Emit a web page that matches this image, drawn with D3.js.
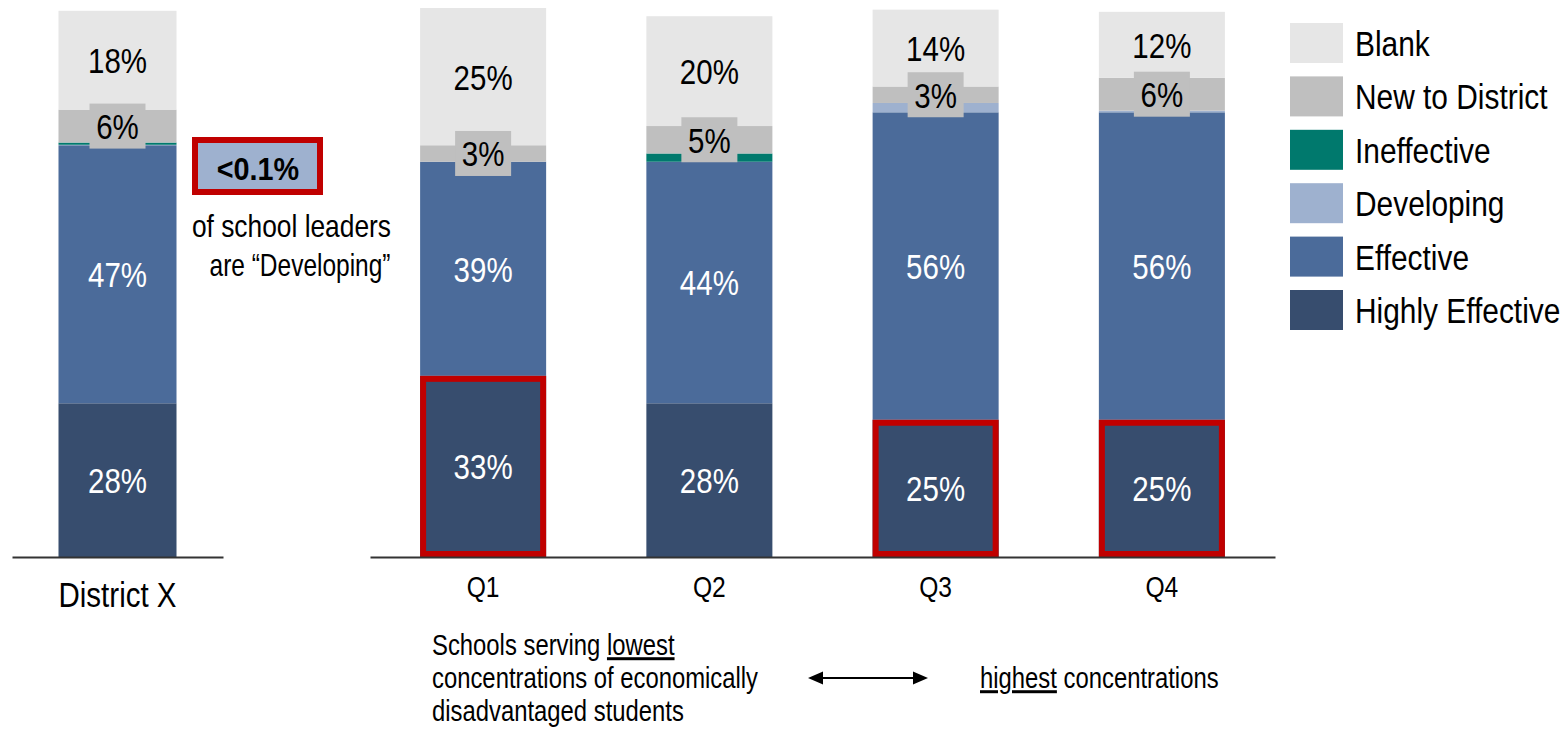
<!DOCTYPE html>
<html>
<head>
<meta charset="utf-8">
<script src="https://cdn.jsdelivr.net/npm/d3@7"></script>
<style>
  html, body { margin: 0; padding: 0; background: #ffffff; }
  svg { display: block; }
  text { font-family: "Liberation Sans", Arial, sans-serif; }
</style>
</head>
<body>
<div id="chart"></div>
<script>
// Principal effectiveness ratings, district-wide and by school poverty quartile
const groups = ["District X"];
const quartiles = ["Q1", "Q2", "Q3", "Q4"];
const categories = ["District X", "Q1", "Q2", "Q3", "Q4"];

// Share of school leaders per rating (%), stacked bottom to top
const highlyEffective = [28, 33, 28, 25, 25];
const effective       = [47, 39, 44, 56, 56];
const developing      = [0.09, 0, 0, 1.7, 0.3];
const ineffective     = [0.4, 0, 1.5, 0, 0];
const newToDistrict   = [6, 3, 5, 3, 6];
const blank           = [18, 25, 20, 14, 12];

const seriesKeys  = ["highlyEffective", "effective", "developing", "ineffective", "newToDistrict", "blank"];
const seriesNames = ["Highly Effective", "Effective", "Developing", "Ineffective", "New to District", "Blank"];
const seriesColors = ["#374d6e", "#4b6b9a", "#9eb1cf", "#00796d", "#bfbfbf", "#e6e6e6"];
const labelColors  = { highlyEffective: "#ffffff", effective: "#ffffff", newToDistrict: "#000000", blank: "#000000" };

// Bars whose "Highly Effective" segment is called out
const highlighted = ["Q1", "Q3", "Q4"];

const calloutValue = "<0.1%";
const calloutLines = ["of school leaders", "are \u201cDeveloping\u201d"];

const W = 1565, H = 729;
const NARROW = 0.82;          // horizontal squeeze for a condensed face
const RED = "#c00000";

const svg = d3.select("#chart").append("svg")
  .attr("width", W).attr("height", H);

const seriesData = { highlyEffective, effective, developing, ineffective, newToDistrict, blank };
const rows = categories.map((c, i) => {
  const r = { category: c };
  seriesKeys.forEach(k => { r[k] = seriesData[k][i]; });
  return r;
});

const stacked = d3.stack().keys(seriesKeys)(rows);

const y = d3.scaleLinear().domain([0, 100]).range([557, 8]);

const xDistrict = d3.scaleBand().domain(groups).range([12, 223])
  .paddingInner(0).paddingOuter(0.394);
const xQ = d3.scaleBand().domain(quartiles).range([370, 1275])
  .paddingInner(0.443).paddingOuter(0.2215);

const xOf = c => groups.includes(c) ? xDistrict(c) : xQ(c);
const bwOf = c => groups.includes(c) ? xDistrict.bandwidth() : xQ.bandwidth();

// Condensed text helper: translate to (x, y) then squeeze horizontally
function ntext(parent, x, yy, str, size, opts = {}) {
  return parent.append("text")
    .attr("transform", `translate(${x},${yy}) scale(${opts.k || NARROW},1)`)
    .attr("text-anchor", opts.anchor || "middle")
    .attr("font-size", size)
    .attr("font-weight", opts.weight || "normal")
    .attr("fill", opts.fill || "#000")
    .text(str);
}

// Stacked segments
const layers = svg.append("g").selectAll("g")
  .data(stacked).join("g")
  .attr("fill", (d, i) => seriesColors[i]);

layers.selectAll("rect")
  .data(d => d.map(p => ({ key: d.key, p })))
  .join("rect")
  .attr("x", d => xOf(d.p.data.category))
  .attr("width", d => bwOf(d.p.data.category))
  .attr("y", d => y(d.p[1]))
  .attr("height", d => Math.max(0, y(d.p[0]) - y(d.p[1])));

// Red outline around highlighted "Highly Effective" segments
const heLayer = stacked.find(s => s.key === "highlyEffective");
svg.append("g").selectAll("rect")
  .data(heLayer.filter(p => highlighted.includes(p.data.category)))
  .join("rect")
  .attr("x", p => xOf(p.data.category) + 3)
  .attr("y", p => y(p[1]) + 3)
  .attr("width", p => bwOf(p.data.category) - 6)
  .attr("height", p => y(p[0]) - y(p[1]) - 6)
  .attr("fill", "none")
  .attr("stroke", RED)
  .attr("stroke-width", 6);

// Value labels
const labelG = svg.append("g");
stacked.forEach(layer => {
  if (!(layer.key in labelColors)) return;
  layer.forEach(p => {
    const c = p.data.category;
    const v = p.data[layer.key];
    const cx = xOf(c) + bwOf(c) / 2;
    const cy = (y(p[0]) + y(p[1])) / 2;
    if (layer.key === "newToDistrict") {
      labelG.append("rect")
        .attr("x", cx - 28).attr("y", cy - 22.5)
        .attr("width", 56).attr("height", 45)
        .attr("fill", "#bfbfbf");
    }
    ntext(labelG, cx, cy + 12.9, v + "%", 36, { fill: labelColors[layer.key] });
  });
});

// Baselines and category labels
function styleAxis(g, size, base) {
  g.select(".domain").attr("stroke", "#333").attr("stroke-width", 2);
  g.selectAll(".tick line").remove();
  g.selectAll(".tick text")
    .attr("y", base).attr("dy", 0)
    .attr("transform", `scale(${NARROW},1)`)
    .attr("font-size", size)
    .attr("font-family", "\"Liberation Sans\", Arial, sans-serif")
    .attr("fill", "#000");
}
svg.append("g").attr("transform", `translate(0,${y(0)})`)
  .call(d3.axisBottom(xDistrict).tickSize(0).tickSizeOuter(0))
  .call(g => styleAxis(g, 36, 50));
svg.append("g").attr("transform", `translate(0,${y(0)})`)
  .call(d3.axisBottom(xQ).tickSize(0).tickSizeOuter(0))
  .call(g => styleAxis(g, 30, 40));

// Callout box for the "Developing" share
const call = svg.append("g");
call.append("rect")
  .attr("x", 198).attr("y", 143).attr("width", 125).attr("height", 52)
  .attr("fill", "#b0b0b0");
call.append("rect")
  .attr("x", 195).attr("y", 140).attr("width", 125).attr("height", 52)
  .attr("fill", "#9eb1cf").attr("stroke", RED).attr("stroke-width", 6);
ntext(call, 258, 180, calloutValue, 32, { weight: "bold", k: 0.9 });
ntext(call, 391, 237, calloutLines[0], 31, { anchor: "end", k: 0.85 });
ntext(call, 300, 276, calloutLines[1], 31, { k: 0.79 });

// Legend
const legend = svg.append("g");
const legendOrder = d3.range(seriesKeys.length).reverse();
legendOrder.forEach((si, j) => {
  const top = 23 + j * 53.4;
  legend.append("rect")
    .attr("x", 1290).attr("y", top).attr("width", 53).attr("height", 40)
    .attr("fill", seriesColors[si]);
  ntext(legend, 1355, top + 20 + 12.9, seriesNames[si], 36, { anchor: "start", k: 0.83 });
});

// Note on the quartile ordering
const NOTE_K = 0.795;
const note = svg.append("g");
const t1 = note.append("text")
  .attr("transform", `translate(432,655) scale(${NOTE_K},1)`)
  .attr("font-size", 30).attr("fill", "#000");
t1.append("tspan").text("Schools serving ");
t1.append("tspan").style("text-decoration", "underline").text("lowest");
ntext(note, 432, 688, "concentrations of economically", 30, { anchor: "start", k: NOTE_K });
ntext(note, 432, 721, "disadvantaged students", 30, { anchor: "start", k: NOTE_K });
const t2 = note.append("text")
  .attr("transform", `translate(980,688) scale(${NOTE_K},1)`)
  .attr("font-size", 30).attr("fill", "#000");
t2.append("tspan").style("text-decoration", "underline").text("highest");
t2.append("tspan").text(" concentrations");

// Double-headed arrow
const ay = 678, ax0 = 808, ax1 = 928;
note.append("line")
  .attr("x1", ax0 + 10).attr("x2", ax1 - 10).attr("y1", ay).attr("y2", ay)
  .attr("stroke", "#000").attr("stroke-width", 2);
note.append("path")
  .attr("d", `M${ax0},${ay} L${ax0 + 15},${ay - 6.5} L${ax0 + 15},${ay + 6.5} Z`)
  .attr("fill", "#000");
note.append("path")
  .attr("d", `M${ax1},${ay} L${ax1 - 15},${ay - 6.5} L${ax1 - 15},${ay + 6.5} Z`)
  .attr("fill", "#000");
</script>
</body>
</html>
